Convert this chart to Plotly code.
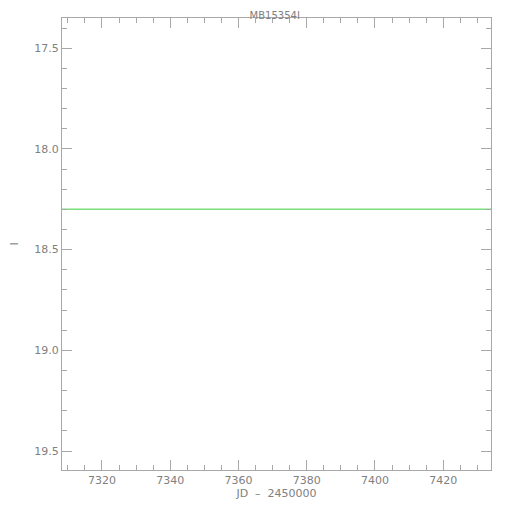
import plotly.graph_objects as go

title = "MB15354I"
model_jd = [7308.3, 7434.0]
model_mag = [18.30, 18.30]
x_range = [7308.3, 7434.0]
y_range = [19.594, 17.35]
x_ticks = [7320, 7340, 7360, 7380, 7400, 7420]
y_ticks = [17.5, 18.0, 18.5, 19.0, 19.5]
y_ticklabels = ["17.5", "18.0", "18.5", "19.0", "19.5"]

axcol = "#a8a8a8"
txtcol = "#808080"

fig = go.Figure()
fig.add_trace(go.Scatter(x=model_jd, y=model_mag, mode="lines",
                         line=dict(color="#7be07b", width=1.5), showlegend=False))

common = dict(showgrid=False, zeroline=False, showline=True, linecolor=axcol, linewidth=1,
              mirror="ticks", ticks="inside", tickcolor=axcol, ticklen=10, tickwidth=1,
              automargin=False,
              tickfont=dict(family="DejaVu Sans", size=11, color=txtcol))

fig.update_layout(
    width=510, height=510,
    margin=dict(l=54, r=27, t=10, b=48),
    paper_bgcolor="white", plot_bgcolor="white",
    title=dict(text=title, x=0.523, xanchor="center", y=0.992, yanchor="top",
               pad=dict(t=0, b=0, l=0, r=0),
               font=dict(family="DejaVu Sans", size=10, color=txtcol)),
    xaxis=dict(range=x_range, tickvals=x_ticks, title=dict(text="JD  \u2013  2450000", standoff=2,
               font=dict(family="DejaVu Sans", size=11, color=txtcol)),
               minor=dict(dtick=5, tick0=7300, ticks="inside", ticklen=5, tickcolor=axcol), **common),
    yaxis=dict(range=y_range, tickvals=y_ticks, ticktext=y_ticklabels,
               title=dict(text="I", standoff=34, font=dict(family="DejaVu Sans", size=11, color=txtcol)),
               minor=dict(dtick=0.1, tick0=17.0, ticks="inside", ticklen=5, tickcolor=axcol), **common),
)

fig.write_html("out.html")
